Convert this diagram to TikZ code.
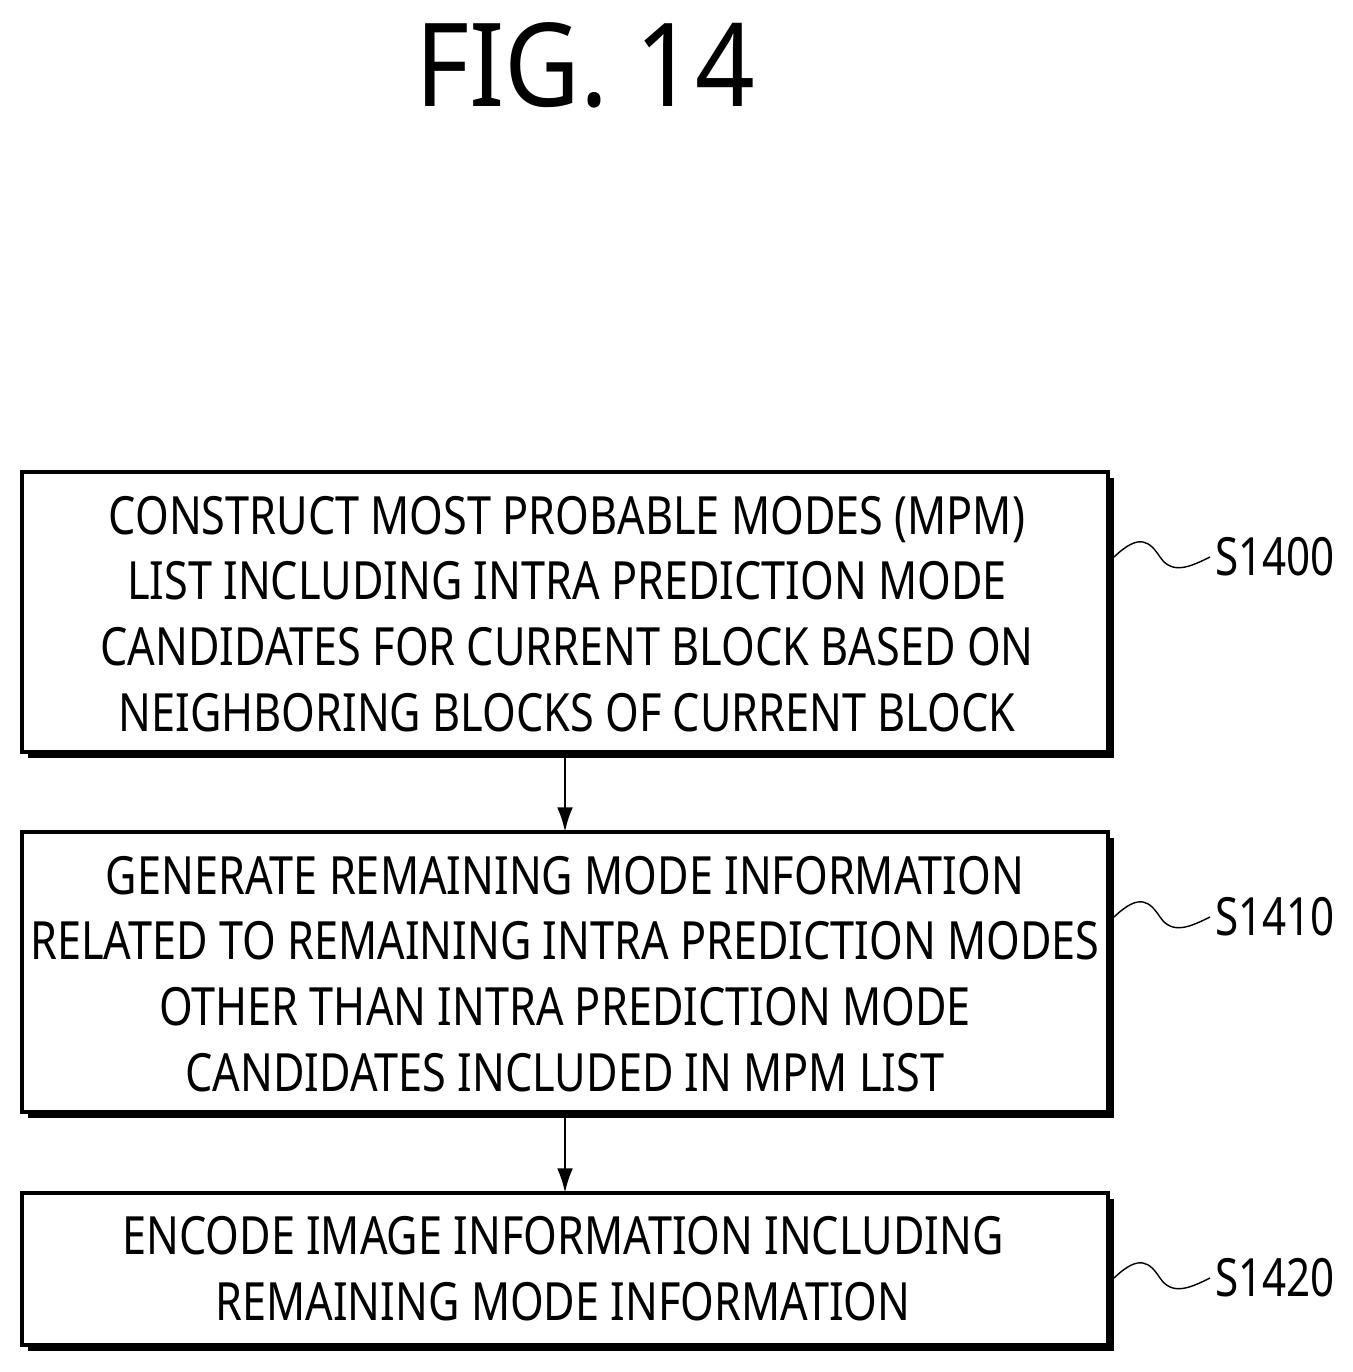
\documentclass[tikz,border=0pt]{standalone}
\usepackage{fontspec}
\setmainfont{Noto Sans}
\usetikzlibrary{arrows.meta}
\begin{document}
\begin{tikzpicture}[x=0.02cm, y=-0.02cm, thick,
  box/.style={draw, line width=2pt, fill=white},
  shadow/.style={fill=black},
  txt/.style={align=center, font=\fontsize{30}{37.5}\selectfont, xscale=0.82},
  lbl/.style={font=\fontsize{30}{36}\selectfont, xscale=0.8, anchor=west}]
\useasboundingbox (0,0) rectangle (1352,1372);
\node[font=\fontsize{66}{70}\selectfont, xscale=0.9] (title) at (585,65) {FIG. 14};
% Boxes with shadows
\fill[shadow] (28,478) rectangle (1114,758);
\draw[box] (22,472) rectangle (1108,752);
\fill[shadow] (28,838) rectangle (1114,1118);
\draw[box] (22,832) rectangle (1108,1112);
\fill[shadow] (28,1199) rectangle (1114,1351);
\draw[box] (22,1193) rectangle (1108,1345);
\node[txt] (t1) at (567,614) {CONSTRUCT MOST PROBABLE MODES (MPM)\\LIST INCLUDING INTRA PREDICTION MODE\\CANDIDATES FOR CURRENT BLOCK BASED ON\\NEIGHBORING BLOCKS OF CURRENT BLOCK};
\node[txt] (t2) at (565,974) {GENERATE REMAINING MODE INFORMATION\\RELATED TO REMAINING INTRA PREDICTION MODES\\OTHER THAN INTRA PREDICTION MODE\\CANDIDATES INCLUDED IN MPM LIST};
\node[txt] (t3) at (563,1269) {ENCODE IMAGE INFORMATION INCLUDING\\REMAINING MODE INFORMATION};
% Arrows
\coordinate (a1) at (565,758); \coordinate (b1) at (565,832);
\coordinate (a2) at (565,1118); \coordinate (b2) at (565,1193);
\draw[-{Latex[length=14pt,width=9pt]}, line width=1.6pt] (a1) -- (b1);
\draw[-{Latex[length=14pt,width=9pt]}, line width=1.6pt] (a2) -- (b2);
% Step labels
\foreach \y/\s in {557/S1400, 917/S1410, 1278/S1420}{
  \node[lbl] (s\s) at (1210,\y) {\s};
  \draw (1114,\y) .. controls (1140,\y-25) and (1150,\y-15) .. (1160,\y)
        .. controls (1172,\y+18) and (1190,\y+10) .. (s\s.west);
}
\end{tikzpicture}
\end{document}
